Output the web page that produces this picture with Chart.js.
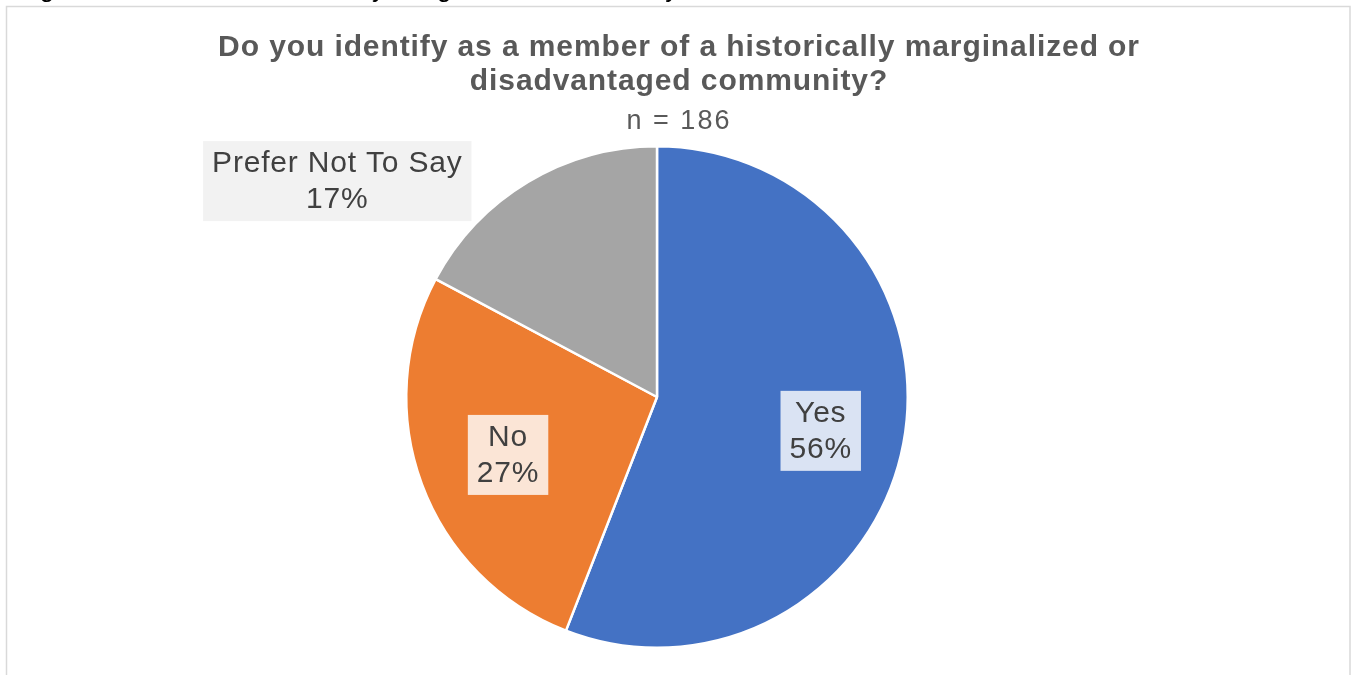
<!DOCTYPE html>
<html>
<head>
<meta charset="utf-8">
<script src="https://cdn.jsdelivr.net/npm/chart.js@4"></script>
<style>
  html, body { margin: 0; padding: 0; background: #fff; }
  #wrap { position: relative; width: 1357px; height: 675px; }
</style>
</head>
<body>
<div id="wrap"><canvas id="pieChart"></canvas></div>
<script>
const labels = ['Yes', 'No', 'Prefer Not To Say'];
const counts = [104, 50, 32];
const pctLabels = ['56%', '27%', '17%'];
const colors = ['#4472C4', '#ED7D31', '#A5A5A5'];
const boxColors = ['#DAE3F3', '#FBE5D6', '#F2F2F2'];

const TITLE = ['Do you identify as a member of a historically marginalized or', 'disadvantaged community?'];
const SUBTITLE = 'n = 186';
const CAPTION = 'Figure 6: Member of Historically Marginalized Community';

// label box centres, in units of the pie radius from the pie centre
const labelOffsets = [[0.653, 0.135], [-0.594, 0.231], [-1.275, -0.861]];

const FONT = '"Liberation Sans", Arial, sans-serif';

const decor = {
  id: 'decor',
  beforeDraw(chart) {
    const ctx = chart.ctx;
    ctx.save();
    // outer frame
    ctx.strokeStyle = '#D9D9D9';
    ctx.lineWidth = 1.5;
    ctx.strokeRect(6.5, 6.5, 1343.5, 700);
    // cut-off caption above the frame
    ctx.fillStyle = '#000';
    ctx.font = '26px ' + FONT;
    ctx.textAlign = 'left';
    ctx.textBaseline = 'alphabetic';
    ctx.fillText(CAPTION, 18, -3);
    // title
    ctx.fillStyle = '#595959';
    ctx.textAlign = 'center';
    ctx.letterSpacing = '0.9px';
    ctx.font = 'bold 30px ' + FONT;
    ctx.fillText(TITLE[0], 679, 56);
    ctx.fillText(TITLE[1], 679, 90);
    ctx.letterSpacing = '2px';
    ctx.font = '27px ' + FONT;
    ctx.fillText(SUBTITLE, 679, 129);
    ctx.restore();
  },
  afterDatasetsDraw(chart) {
    const ctx = chart.ctx;
    const arcs = chart.getDatasetMeta(0).data;
    ctx.save();
    ctx.font = '30px ' + FONT;
    ctx.letterSpacing = '0.8px';
    ctx.textAlign = 'center';
    ctx.textBaseline = 'middle';
    arcs.forEach((arc, i) => {
      const r = arc.outerRadius;
      const cx = arc.x + labelOffsets[i][0] * r;
      const cy = arc.y + labelOffsets[i][1] * r;
      const lines = [labels[i], pctLabels[i]];
      const w = Math.max(...lines.map(l => ctx.measureText(l).width)) + 18;
      const lh = 36, h = lh * 2 + 8;
      ctx.fillStyle = boxColors[i];
      ctx.fillRect(cx - w / 2, cy - h / 2, w, h);
      ctx.fillStyle = '#404040';
      ctx.fillText(lines[0], cx, cy - lh / 2 + 1);
      ctx.fillText(lines[1], cx, cy + lh / 2 + 1);
    });
    ctx.restore();
  }
};

new Chart(document.getElementById('pieChart'), {
  type: 'pie',
  data: {
    labels: labels,
    datasets: [{
      data: counts,
      backgroundColor: colors,
      borderColor: '#ffffff',
      borderWidth: 2.5
    }]
  },
  options: {
    responsive: true,
    maintainAspectRatio: false,
    animation: false,
    layout: { padding: { left: 405, right: 448, top: 145, bottom: 26 } },
    plugins: {
      legend: { display: false },
      tooltip: { enabled: false }
    }
  },
  plugins: [decor]
});
</script>
</body>
</html>
